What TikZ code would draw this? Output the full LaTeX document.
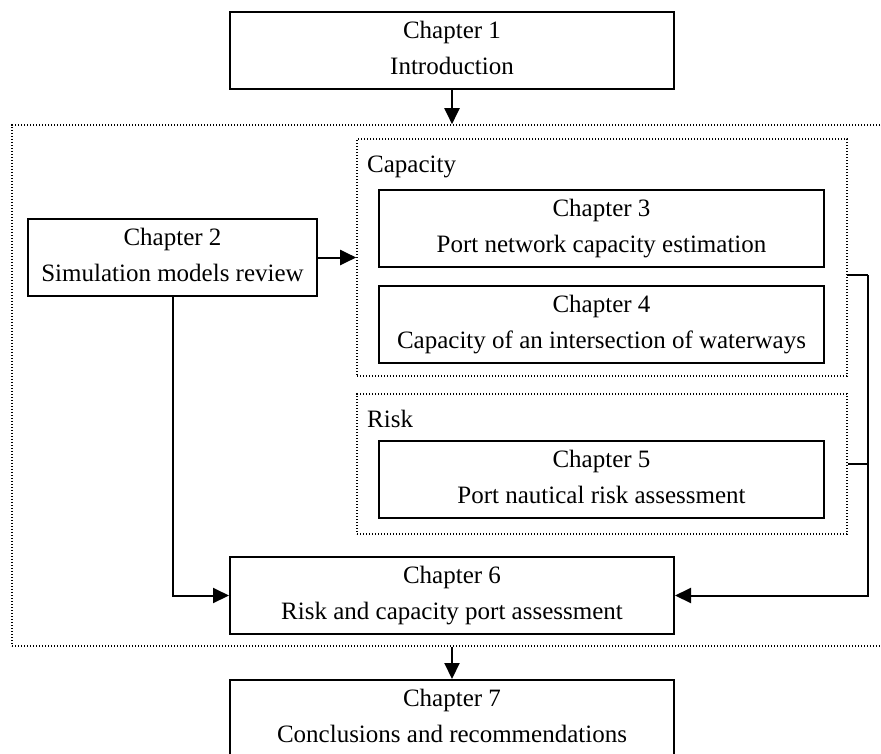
\documentclass[tikz,border=0pt]{standalone}
\usepackage{fontspec}
\setmainfont{Liberation Serif}
\usetikzlibrary{arrows.meta}
\newcommand{\lnstrut}{\rule[-10pt]{0pt}{32pt}}
\begin{document}
\begin{tikzpicture}[x=1pt,y=-1pt,
  every node/.style={font=\fontsize{25}{36}\selectfont},
  chapbox/.style={draw, line width=2pt, rectangle, inner sep=0pt, align=center},
  groupbox/.style={draw, line width=1.6pt, dash pattern=on 1.4pt off 1.6pt, rectangle, inner sep=0pt},
  grouplabel/.style={anchor=base west, inner sep=0pt},
  link/.style={line width=2pt},
  arrowlink/.style={line width=2pt, -{Triangle[length=16pt,width=15pt]}}]
\useasboundingbox (0,0) rectangle (881,753);

% group frames
\node[groupbox, minimum width=880pt, minimum height=521pt] (outer) at (452,385.5) {};
\node[groupbox, minimum width=490pt, minimum height=237pt] (capbox) at (602,257.5) {};
\node[groupbox, minimum width=490pt, minimum height=140pt] (riskbox) at (602,464) {};
\node[grouplabel] (caplabel) at (367,172) {Capacity};
\node[grouplabel] (risklabel) at (367,427) {Risk};

% chapters
\node[chapbox, minimum width=444pt, minimum height=77pt] (ch1) at (452,50.5)
  {\lnstrut Chapter 1\\\lnstrut Introduction};
\node[chapbox, minimum width=289pt, minimum height=77pt] (ch2) at (172.5,257.5)
  {\lnstrut Chapter 2\\\lnstrut Simulation models review};
\node[chapbox, minimum width=445pt, minimum height=77pt] (ch3) at (601.5,228.5)
  {\lnstrut Chapter 3\\\lnstrut Port network capacity estimation};
\node[chapbox, minimum width=445pt, minimum height=77pt] (ch4) at (601.5,324.5)
  {\lnstrut Chapter 4\\\lnstrut Capacity of an intersection of waterways};
\node[chapbox, minimum width=445pt, minimum height=77pt] (ch5) at (601.5,479.5)
  {\lnstrut Chapter 5\\\lnstrut Port nautical risk assessment};
\node[chapbox, minimum width=444pt, minimum height=77pt] (ch6) at (452,595.5)
  {\lnstrut Chapter 6\\\lnstrut Risk and capacity port assessment};
\node[chapbox, minimum width=444pt, minimum height=77pt] (ch7) at (452,718.5)
  {\lnstrut Chapter 7\\\lnstrut Conclusions and recommendations};

% connectors
\coordinate (capout) at (847,275);
\coordinate (bus) at (868,275);
\draw[arrowlink] (ch1.south) -- (ch1.south |- outer.north);
\draw[arrowlink] (ch2.east) -- (ch2.east -| capbox.west);
\draw[arrowlink] (ch2.south) |- (ch6.west);
\draw[link] (capout) -- (bus);
\draw[link] (riskbox.east) -- (riskbox.east -| bus);
\draw[arrowlink] (bus) |- (ch6.east);
\draw[arrowlink] (ch7.north |- outer.south) -- (ch7.north);
\end{tikzpicture}
\end{document}
